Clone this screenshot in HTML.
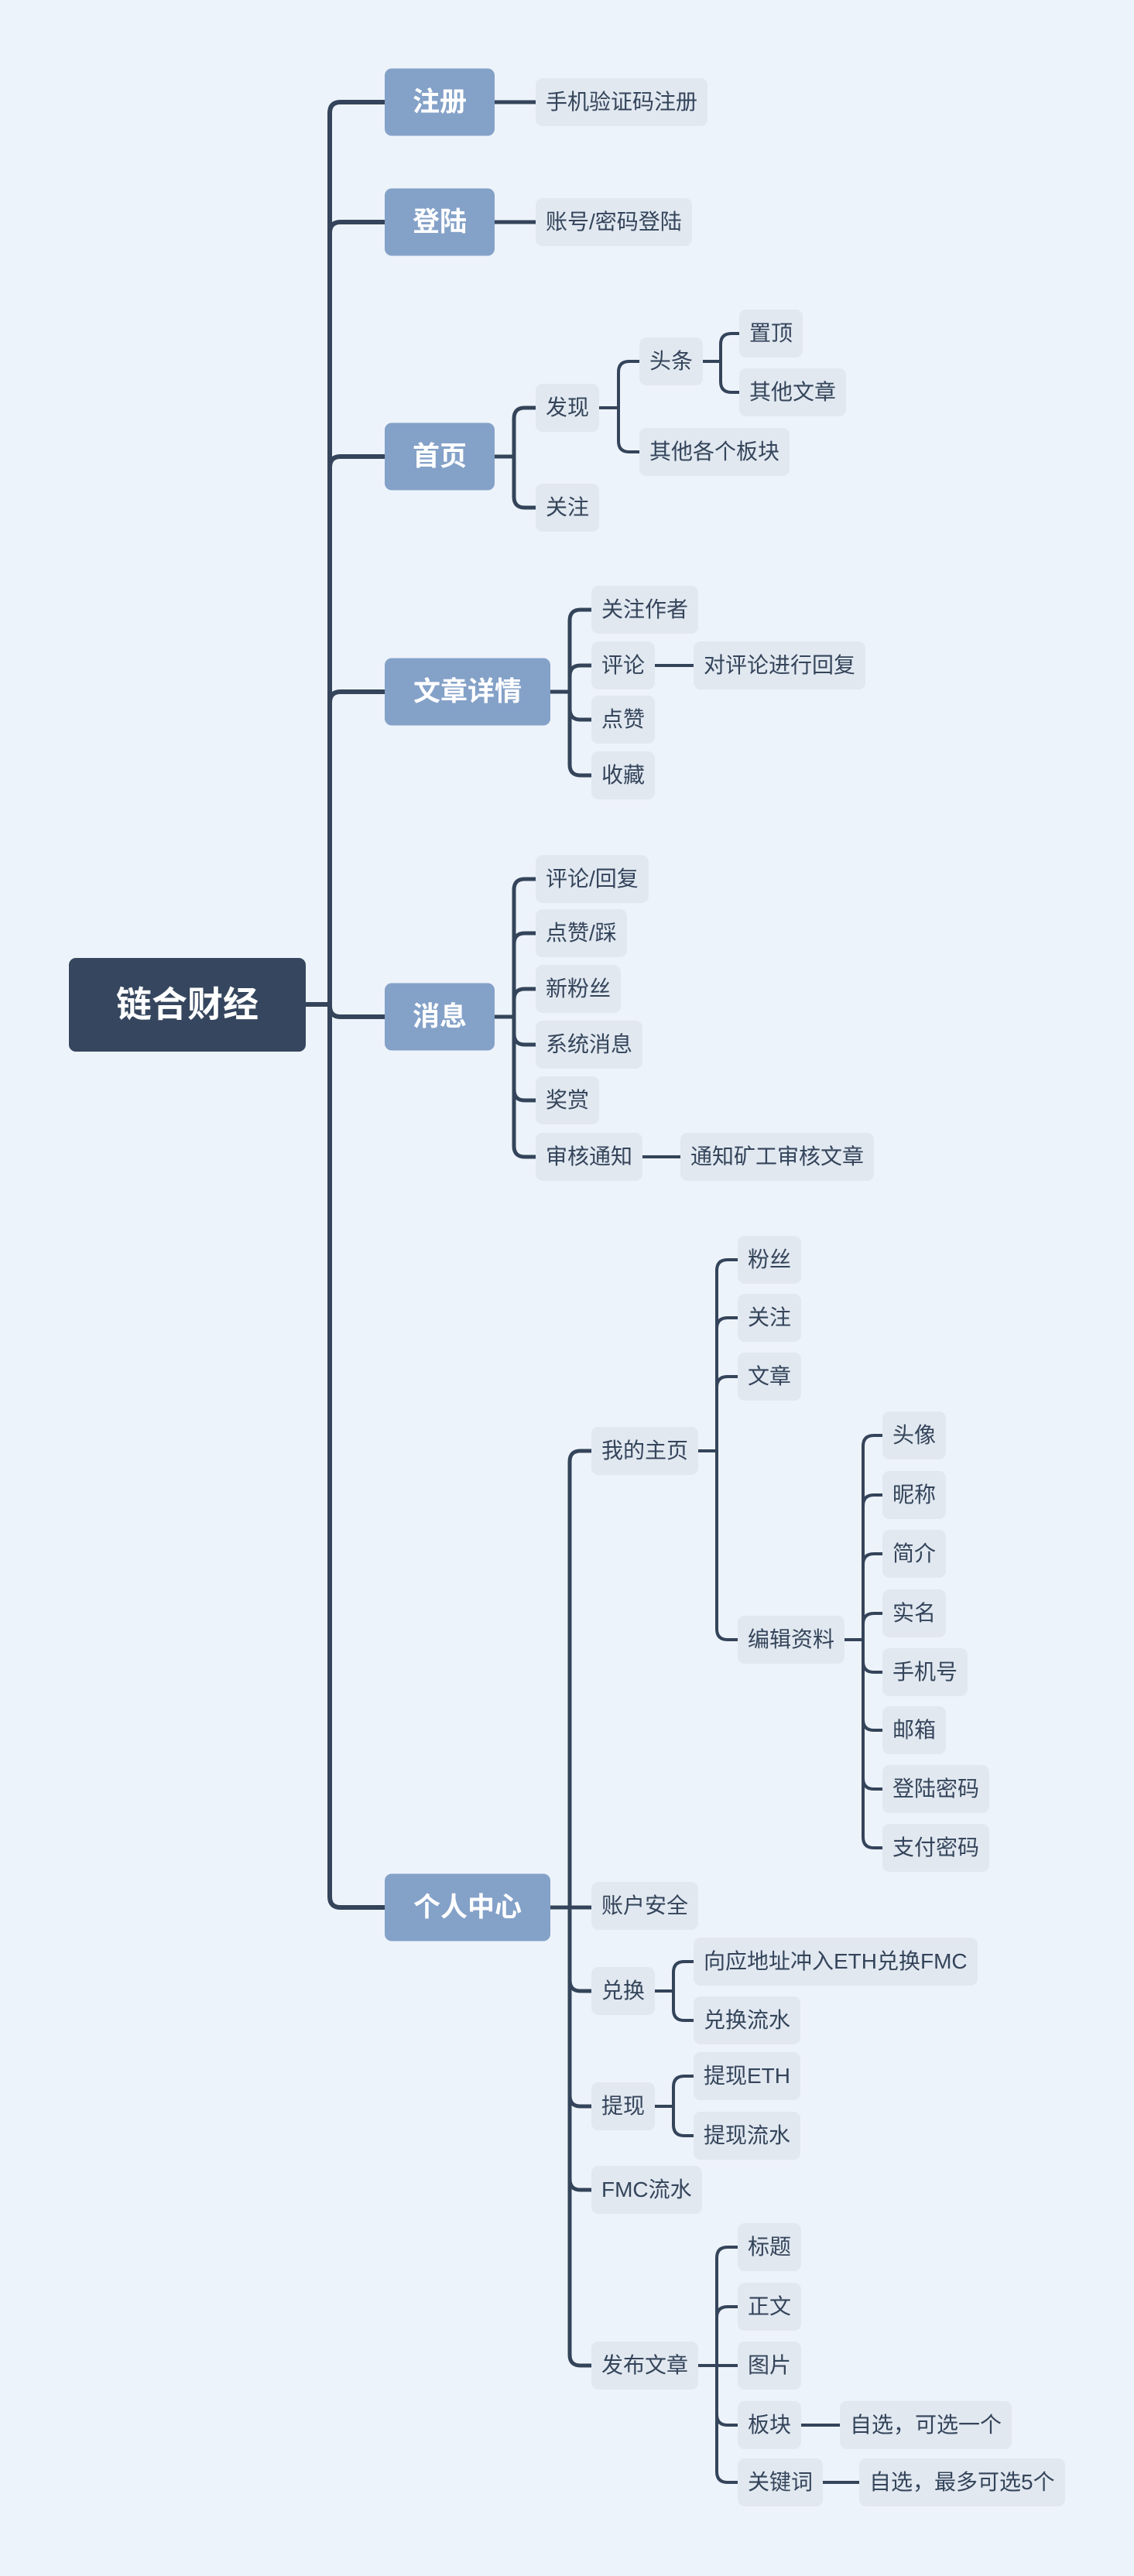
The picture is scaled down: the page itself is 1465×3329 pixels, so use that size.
<!DOCTYPE html>
<html><head><meta charset="utf-8">
<style>
html,body{margin:0;padding:0;}
body{width:1465px;height:3329px;background:#edf3fa;position:relative;overflow:hidden;font-family:"Liberation Sans","Noto Sans CJK SC",sans-serif;}
.n{position:absolute;height:62px;line-height:62px;padding:0 13px;background:#e1e8f0;color:#34445a;font-size:28px;border-radius:9px;white-space:nowrap;transform:translateY(-50%);}
.l1{position:absolute;height:87px;line-height:87px;background:#84a1c8;color:#fff;font-size:35px;font-weight:bold;border-radius:9px;text-align:center;transform:translateY(-50%);}
.root{position:absolute;left:89px;top:1238px;width:306px;height:121px;line-height:121px;background:#35465e;color:#fff;font-size:46px;font-weight:bold;text-align:center;border-radius:9px;}
svg{position:absolute;left:0;top:0;}
</style></head><body>
<svg id="s" width="1465" height="3329"></svg>
<div class="root" id="root">链合财经</div>

<div class="l1" id="a1" style="left:497px;top:132px;width:142px">注册</div>
<div class="l1" id="a2" style="left:497px;top:287px;width:142px">登陆</div>
<div class="l1" id="a3" style="left:497px;top:590px;width:142px">首页</div>
<div class="l1" id="a4" style="left:497px;top:894px;width:214px">文章详情</div>
<div class="l1" id="a5" style="left:497px;top:1314px;width:142px">消息</div>
<div class="l1" id="a6" style="left:497px;top:2465px;width:214px">个人中心</div>

<div class="n" data-p="a1" style="left:692px;top:132px">手机验证码注册</div>
<div class="n" data-p="a2" style="left:692px;top:287px">账号/密码登陆</div>
<div class="n" id="fx" data-p="a3" style="left:692px;top:527px">发现</div>
<div class="n" data-p="a3" style="left:692px;top:656px">关注</div>
<div class="n" id="tt" data-p="fx" style="left:826px;top:467px">头条</div>
<div class="n" data-p="fx" style="left:826px;top:584px">其他各个板块</div>
<div class="n" data-p="tt" style="left:955px;top:431px">置顶</div>
<div class="n" data-p="tt" style="left:955px;top:507px">其他文章</div>

<div class="n" data-p="a4" style="left:764px;top:788px">关注作者</div>
<div class="n" id="pl" data-p="a4" style="left:764px;top:860px">评论</div>
<div class="n" data-p="a4" style="left:764px;top:930px">点赞</div>
<div class="n" data-p="a4" style="left:764px;top:1002px">收藏</div>
<div class="n" data-p="pl" style="left:896px;top:860px">对评论进行回复</div>

<div class="n" data-p="a5" style="left:692px;top:1136px">评论/回复</div>
<div class="n" data-p="a5" style="left:692px;top:1206px">点赞/踩</div>
<div class="n" data-p="a5" style="left:692px;top:1278px">新粉丝</div>
<div class="n" data-p="a5" style="left:692px;top:1350px">系统消息</div>
<div class="n" data-p="a5" style="left:692px;top:1422px">奖赏</div>
<div class="n" id="sh" data-p="a5" style="left:692px;top:1495px">审核通知</div>
<div class="n" data-p="sh" style="left:879px;top:1495px">通知矿工审核文章</div>

<div class="n" id="zy" data-p="a6" style="left:764px;top:1875px">我的主页</div>
<div class="n" data-p="a6" style="left:764px;top:2463px">账户安全</div>
<div class="n" id="dh" data-p="a6" style="left:764px;top:2573px">兑换</div>
<div class="n" id="tx" data-p="a6" style="left:764px;top:2722px">提现</div>
<div class="n" data-p="a6" style="left:764px;top:2830px">FMC流水</div>
<div class="n" id="fb" data-p="a6" style="left:764px;top:3057px">发布文章</div>

<div class="n" data-p="zy" style="left:953px;top:1628px">粉丝</div>
<div class="n" data-p="zy" style="left:953px;top:1703px">关注</div>
<div class="n" data-p="zy" style="left:953px;top:1779px">文章</div>
<div class="n" id="bj" data-p="zy" style="left:953px;top:2119px">编辑资料</div>

<div class="n" data-p="bj" style="left:1140px;top:1855px">头像</div>
<div class="n" data-p="bj" style="left:1140px;top:1932px">昵称</div>
<div class="n" data-p="bj" style="left:1140px;top:2008px">简介</div>
<div class="n" data-p="bj" style="left:1140px;top:2085px">实名</div>
<div class="n" data-p="bj" style="left:1140px;top:2161px">手机号</div>
<div class="n" data-p="bj" style="left:1140px;top:2236px">邮箱</div>
<div class="n" data-p="bj" style="left:1140px;top:2312px">登陆密码</div>
<div class="n" data-p="bj" style="left:1140px;top:2388px">支付密码</div>

<div class="n" data-p="dh" style="left:896px;top:2535px">向应地址冲入ETH兑换FMC</div>
<div class="n" data-p="dh" style="left:896px;top:2611px">兑换流水</div>
<div class="n" data-p="tx" style="left:896px;top:2683px">提现ETH</div>
<div class="n" data-p="tx" style="left:896px;top:2760px">提现流水</div>

<div class="n" data-p="fb" style="left:953px;top:2904px">标题</div>
<div class="n" data-p="fb" style="left:953px;top:2981px">正文</div>
<div class="n" data-p="fb" style="left:953px;top:3057px">图片</div>
<div class="n" id="bk" data-p="fb" style="left:953px;top:3134px">板块</div>
<div class="n" id="gj" data-p="fb" style="left:953px;top:3208px">关键词</div>
<div class="n" data-p="bk" style="left:1085px;top:3134px">自选，可选一个</div>
<div class="n" data-p="gj" style="left:1110px;top:3208px">自选，最多可选5个</div>

<script>
(function(){
var svg=document.getElementById('s');var NS='http://www.w3.org/2000/svg';
function path(d,w){var p=document.createElementNS(NS,'path');p.setAttribute('d',d);p.setAttribute('stroke','#34445a');p.setAttribute('stroke-width',w);p.setAttribute('fill','none');p.setAttribute('stroke-linecap','butt');svg.appendChild(p);}
function box(e){return {l:e.offsetLeft,r:e.offsetLeft+e.offsetWidth,y:e.offsetTop};}
function group(parent,children,ratio,w){
  var pb=parent.id==='root'?{l:89,r:395,y:1298}:box(parent);
  var cl=box(children[0]).l;var bx=Math.round(pb.r+(cl-pb.r)*ratio);
  if(children.length===1&&Math.abs(box(children[0]).y-pb.y)<3){path('M'+pb.r+','+pb.y+' H'+cl,w);return;}
  path('M'+pb.r+','+pb.y+' H'+bx,w);
  var r=14;
  children.forEach(function(c){var cb=box(c);var dy=cb.y-pb.y;
    if(Math.abs(dy)<3){path('M'+bx+','+pb.y+' H'+cb.l,w);return;}
    var sg=dy>0?1:-1;
    path('M'+bx+','+pb.y+' V'+(cb.y-sg*r)+' Q'+bx+','+cb.y+' '+(bx+r)+','+cb.y+' H'+cb.l,w);
  });
}
group(document.getElementById('root'),[].slice.call(document.querySelectorAll('.l1')),0.3,6);
var map={};[].slice.call(document.querySelectorAll('.n')).forEach(function(n){var p=n.getAttribute('data-p');(map[p]=map[p]||[]).push(n);});
for(var k in map){var w=/^a\d$/.test(k)?5:4;group(document.getElementById(k),map[k],0.48,w);}
})();
</script>
</body></html>
